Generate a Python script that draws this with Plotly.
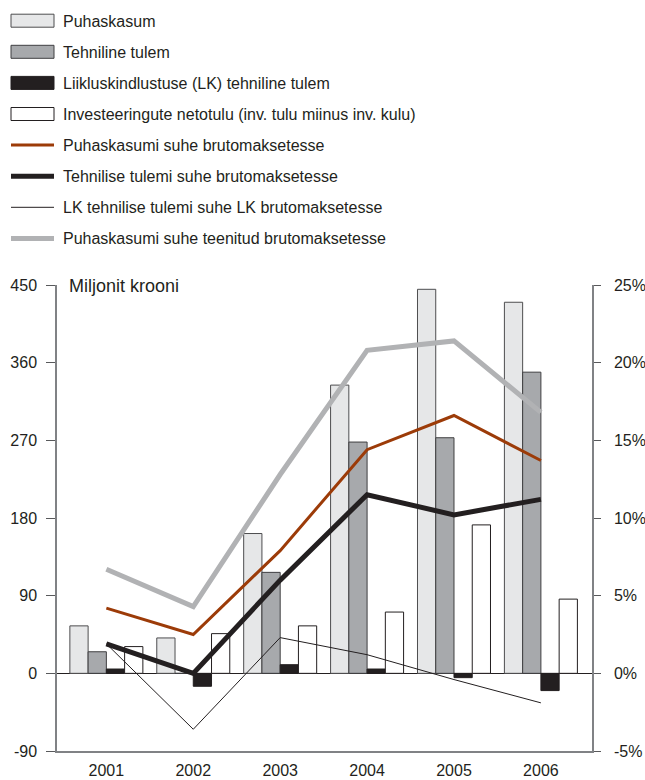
import plotly.graph_objects as go

# ---- data -------------------------------------------------------------
years = ["2001", "2002", "2003", "2004", "2005", "2006"]

# million kroons (left axis)
puhaskasum = [55, 41, 162, 334, 445, 430]
tehniline_tulem = [25, 0, 117, 268, 273, 349]
lk_tehniline_tulem = [5, -15, 10, 5, -5, -20]
investeeringute_netotulu = [31, 46, 55, 71, 172, 86]

# ratios, % (right axis)
puhaskasumi_suhe = [4.2, 2.5, 7.9, 14.4, 16.6, 13.7]
tehnilise_suhe = [1.9, 0.0, 6.0, 11.5, 10.2, 11.2]
lk_suhe = [1.9, -3.6, 2.3, 1.2, -0.4, -1.9]
teenitud_suhe = [6.7, 4.3, 12.8, 20.8, 21.4, 16.8]

left_ticks = [-90, 0, 90, 180, 270, 360, 450]
left_labels = ["-90", "0", "90", "180", "270", "360", "450"]
right_ticks = [-5, 0, 5, 10, 15, 20, 25]
right_labels = ["-5%", "0%", "5%", "10%", "15%", "20%", "25%"]

bar_series = [
    ("Puhaskasum", puhaskasum, "#e6e7e8", "#4d4d4f"),
    ("Tehniline tulem", tehniline_tulem, "#a7a9ac", "#3f3f41"),
    ("Liikluskindlustuse (LK) tehniline tulem", lk_tehniline_tulem, "#231f20", "#231f20"),
    ("Investeeringute netotulu (inv. tulu miinus inv. kulu)", investeeringute_netotulu, "#ffffff", "#231f20"),
]
line_series = [
    ("Puhaskasumi suhe brutomaksetesse", puhaskasumi_suhe, "#9c3b08", 3),
    ("Tehnilise tulemi suhe brutomaksetesse", tehnilise_suhe, "#231f20", 5),
    ("LK tehnilise tulemi suhe LK brutomaksetesse", lk_suhe, "#231f20", 1),
    ("Puhaskasumi suhe teenitud brutomaksetesse", teenitud_suhe, "#b1b2b4", 5),
]

# ---- page geometry ----------------------------------------------------
W, H = 645, 780
ML, MR, MT, MB = 57, 53, 285, 29
PW, PH = W - ML - MR, H - MT - MB


def px_x(x):
    return (x - ML) / PW


def px_y(y):
    return (H - MB - y) / PH


xpos = list(range(len(years)))
XR = [-0.568, 5.588]

fig = go.Figure()

for name, vals, fill, edge in bar_series:
    fig.add_trace(go.Bar(
        x=xpos, y=vals, name=name, yaxis="y",
        marker=dict(color=fill, line=dict(color=edge, width=1)),
        showlegend=False,
    ))

# ratio lines drawn in their own (right-axis) layer, lightest first
for name, vals, color, width in [line_series[3], line_series[0], line_series[1], line_series[2]]:
    fig.add_trace(go.Scatter(
        x=xpos, y=vals, name=name, yaxis="y2", mode="lines",
        line=dict(color=color, width=width),
        showlegend=False,
    ))

# ---- hand-built legend ------------------------------------------------
shapes = []
annotations = []
row_y = [20.7 + 31.1 * i for i in range(8)]
sw_x0, sw_x1, text_x = 11, 54, 61
legend_font = dict(family="Liberation Sans, Arial", size=16, color="#231f20")

for i, (name, _, fill, edge) in enumerate(bar_series):
    cy = row_y[i]
    shapes.append(dict(
        type="rect", xref="paper", yref="paper",
        x0=px_x(sw_x0), x1=px_x(sw_x1), y0=px_y(cy - 6.5), y1=px_y(cy + 6.5),
        fillcolor=fill, line=dict(color=edge, width=1),
    ))
    annotations.append(dict(
        text=name, xref="paper", yref="paper", x=px_x(text_x), y=px_y(cy + 0.5),
        xanchor="left", yanchor="middle", showarrow=False, font=legend_font,
    ))

for j, (name, _, color, width) in enumerate(line_series):
    cy = row_y[4 + j]
    shapes.append(dict(
        type="line", xref="paper", yref="paper",
        x0=px_x(sw_x0), x1=px_x(sw_x1), y0=px_y(cy), y1=px_y(cy),
        line=dict(color=color, width=width),
    ))
    annotations.append(dict(
        text=name, xref="paper", yref="paper", x=px_x(text_x), y=px_y(cy + 0.5),
        xanchor="left", yanchor="middle", showarrow=False, font=legend_font,
    ))

# axis unit label
annotations.append(dict(
    text="Miljonit krooni", xref="paper", yref="paper", x=px_x(67), y=px_y(286),
    xanchor="left", yanchor="middle", showarrow=False,
    font=dict(family="Liberation Sans, Arial", size=18, color="#231f20"),
))

tick_font = dict(family="Liberation Sans, Arial", size=16, color="#231f20")
axis_grey = "#808285"

fig.update_layout(
    width=W, height=H, autosize=False,
    margin=dict(l=ML, r=MR, t=MT, b=MB, pad=0, autoexpand=False),
    paper_bgcolor="white", plot_bgcolor="white",
    barmode="group", bargap=0.16, bargroupgap=0,
    showlegend=False,
    shapes=shapes, annotations=annotations,
    xaxis=dict(
        range=XR, tickmode="array", tickvals=xpos, ticktext=years,
        showline=True, linecolor=axis_grey, linewidth=1.5,
        ticks="", showgrid=False, zeroline=False, tickfont=tick_font,
        ticklabelstandoff=4, automargin=False,
    ),
    # category-boundary ticks hanging from the zero line
    xaxis2=dict(
        overlaying="x", anchor="free", position=90 / 540, side="bottom",
        range=XR, tickmode="array", tickvals=[0.5, 1.5, 2.5, 3.5, 4.5],
        ticks="outside", ticklen=12, tickwidth=1, tickcolor="#231f20",
        showticklabels=False, showline=False, showgrid=False, zeroline=False,
        automargin=False,
    ),
    yaxis=dict(
        range=[-90, 450], tickmode="array", tickvals=left_ticks, ticktext=left_labels,
        showline=True, linecolor=axis_grey, linewidth=1.5,
        ticks="outside", ticklen=9, tickwidth=1, tickcolor="#58595b",
        showgrid=False, zeroline=True, zerolinecolor="#231f20", zerolinewidth=1.3,
        tickfont=tick_font, ticklabelstandoff=6, automargin=False,
    ),
    yaxis2=dict(
        range=[-5, 25], tickmode="array", tickvals=right_ticks, ticktext=right_labels,
        overlaying="y", side="right",
        showline=True, linecolor=axis_grey, linewidth=1.5,
        ticks="outside", ticklen=7, tickwidth=1, tickcolor="#58595b",
        showgrid=False, zeroline=False, tickfont=tick_font, ticklabelstandoff=10,
        automargin=False,
    ),
)

fig.write_html("out.html")
